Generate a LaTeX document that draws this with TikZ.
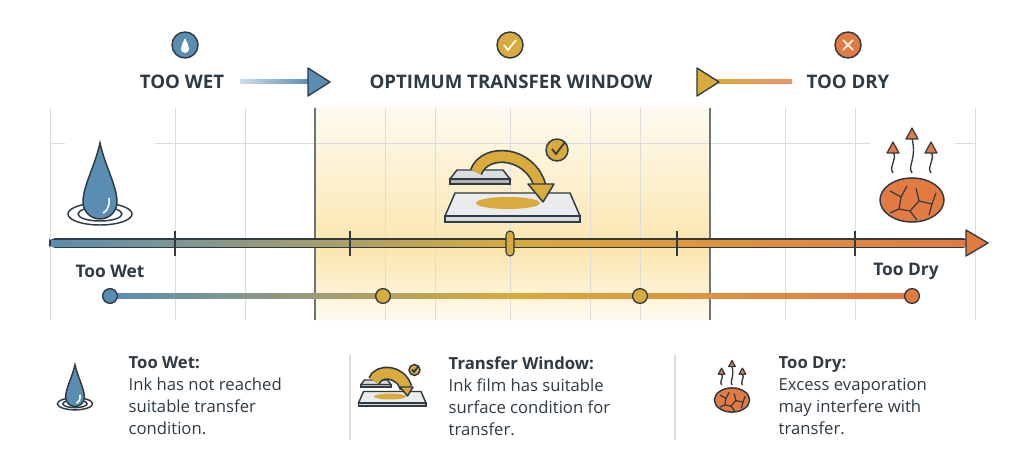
\documentclass[tikz,border=0pt]{standalone}
\usepackage{fontspec}
\setmainfont{Open Sans}
\usetikzlibrary{shapes.geometric,arrows.meta,decorations.pathmorphing}
\definecolor{cb}{HTML}{5A8DB2}
\definecolor{cg}{HTML}{D9AA3C}
\definecolor{co}{HTML}{E27A42}
\definecolor{dk}{HTML}{2E3A44}
\definecolor{grid}{HTML}{DCDCDC}
\definecolor{band1}{HTML}{FEFAF0}
\definecolor{band2}{HTML}{FBE6AE}
\definecolor{plate}{HTML}{DADDE0}
\tikzset{
 hdr/.style={font=\bfseries\fontsize{14}{16}\selectfont,text=dk},
 lab/.style={font=\bfseries\fontsize{13}{15}\selectfont,text=dk},
 desc/.style={font=\fontsize{12.5}{16.5}\selectfont,text=dk,align=left,anchor=north west},
 gl/.style={grid,line width=0.6pt},
 pics/drop/.style={code={
  \draw[dk,line width=1.1pt] (0,16) ellipse[x radius=32,y radius=11];
  \draw[dk,line width=1.1pt] (0,16) ellipse[x radius=22,y radius=7];
  \fill[white] (-14,2) rectangle (14,20);
  \fill[cb,draw=dk,line width=1.1pt] (0,-55) .. controls (5,-32) and (17,-12) .. (17,4) arc[start angle=0,end angle=180,radius=17] .. controls (-17,-12) and (-5,-32) .. (0,-55) -- cycle;
  \draw[white,line width=1.2pt] (9,0) .. controls (10,8) and (7,13) .. (3,15);
 }},
 pics/xfer/.style={code={
  \fill[plate,draw=dk,line width=1.1pt] (-43,-26)--(3,-26)--(10,-17)--(-50,-17)--cycle;
  \fill[gray!60,draw=dk,line width=1.1pt] (-50,-17) rectangle (10,-12);
  \fill[plate!60,draw=dk,line width=1.1pt] (-45,-3)--(70,-3)--(80,20)--(-55,20)--cycle;
  \fill[plate,draw=dk,line width=1.1pt] (-55,20) rectangle (80,26);
  \fill[cg] (8,7) ellipse[x radius=32,y radius=6];
  \draw[dk,line width=10pt] (-24,-24) .. controls (-15,-48) and (30,-45) .. (40,-10);
  \draw[cg,line width=7.5pt] (-24,-24) .. controls (-15,-48) and (30,-45) .. (40,-10);
  \fill[cg,draw=dk,line width=1.1pt,line join=round] (28,-12)--(54,-12)--(43,6)--cycle;
  \fill[cg,draw=dk,line width=1.1pt] (57,-46) circle (11);
  \draw[dk,line width=1.3pt] (52,-47)--(56,-42)--(65,-54);
 }},
 pics/dry/.style={code={
  \fill[co,draw=dk,line width=1.1pt] (0,0) ellipse[x radius=32,y radius=22];
  \draw[dk,line width=0.9pt] (-22,-9)--(-11,-3)--(-5,-14) (-11,-3)--(-13,9)--(-22,13) (-13,9)--(-2,11)--(5,20) (-2,11)--(7,1)--(4,-12) (7,1)--(20,4)--(24,-7) (20,4)--(17,15);
  \foreach \x/\t in {-19/-58,0/-72,19/-58}{
   \draw[dk,line width=1pt] (\x,-27) .. controls (\x-5,-34) and (\x+5,-40) .. (\x,\t+10);
   \fill[co,draw=dk,line width=0.9pt,line join=round] (\x-6,\t+11)--(\x+6,\t+11)--(\x,\t)--cycle;
  }
 }}
}
\begin{document}
\begin{tikzpicture}[x=0.75pt,y=-0.75pt]
\useasboundingbox (0,0) rectangle (1024,474);
\fill[white] (0,0) rectangle (1024,474);
% band
\shade[top color=band1,bottom color=band2] (315,108) rectangle (710,250);
\shade[top color=band2,bottom color=band1] (315,250) rectangle (710,320);
% grid
\foreach \x in {50,175,245,385,435,510,590,640,785,855,975}{\draw[gl] (\x,108)--(\x,320);}
\draw[gl] (50,143)--(65,143) (155,143)--(870,143) (955,143)--(975,143);
\draw[dk!70,line width=0.8pt] (315,108)--(315,320) (710,108)--(710,320);
% top icons
\fill[cb,draw=dk,line width=1.1pt] (185,45) circle (13);
\fill[white] (185,38) .. controls (187,43) and (189,45) .. (189,49) arc[start angle=0,end angle=180,radius=4] .. controls (181,45) and (183,43) .. (185,38);
\fill[cg,draw=dk,line width=1.1pt] (510,45) circle (13);
\draw[white,line width=1.3pt] (504,45)--(508,50)--(516,40);
\fill[co,draw=dk,line width=1.1pt] (848,45) circle (13);
\draw[white,line width=1.3pt] (843,40)--(853,50) (853,40)--(843,50);
% header
\node[hdr] (hw) at (182,82) {TOO WET};
\node[hdr] (ho) at (511,82) {OPTIMUM TRANSFER WINDOW};
\node[hdr] (hd) at (848,82) {TOO DRY};
\shade[left color=cb!30,right color=cb] (240,80) rectangle (310,84);
\fill[cb,draw=dk,line width=1pt,line join=round] (308,68)--(330,82)--(308,96)--cycle;
\shade[left color=cg,right color=co!80] (712,80) rectangle (792,84);
\fill[cg,draw=dk,line width=1pt,line join=round] (697,68)--(719,82)--(697,96)--cycle;
% icons
\pic at (100,198) {drop};
\pic at (500,196) {xfer};
\pic at (912,200) {dry};
% main axis
\draw[dk,line width=1.2pt,rounded corners=3.5pt] (50,239) rectangle (968,247);
\shade[left color=cb,right color=co,middle color=cg] (51,240) rectangle (968,246);
\fill[co,draw=dk,line width=1pt,line join=round] (966,230)--(988,243)--(966,256)--cycle;
\foreach \x in {175,350,677,855}{\draw[dk,line width=1pt] (\x,231)--(\x,256);}
\fill[cg,draw=dk,line width=0.8pt,rounded corners=3pt] (506,231) rectangle (514,256);
\node[lab] (tw) at (110,271) {Too Wet};
\node[lab] (td) at (906,271) {Too Dry};
% second line
\shade[left color=cb,right color=co,middle color=cg] (110,293.5) rectangle (912,298.5);
\node[circle,fill=cb,draw=dk,line width=1pt,inner sep=0,minimum size=11pt] (d1) at (110,296) {};
\node[circle,fill=cg,draw=dk,line width=1pt,inner sep=0,minimum size=11pt] (d2) at (383,296) {};
\node[circle,fill=cg,draw=dk,line width=1pt,inner sep=0,minimum size=11pt] (d3) at (640,296) {};
\node[circle,fill=co,draw=dk,line width=1pt,inner sep=0,minimum size=11pt] (d4) at (912,296) {};
% bottom
\draw[grid,line width=0.8pt] (350,355)--(350,440) (675,355)--(675,440);
\pic[scale=0.55] at (75,395) {drop};
\pic[scale=0.5] at (386,393) {xfer};
\pic[scale=0.55] at (732,400) {dry};
\node[desc] (t1) at (124,352) {\textbf{Too Wet:}\\Ink has not reached\\suitable transfer\\condition.};
\node[desc] (t2) at (444,352) {\textbf{Transfer Window:}\\Ink film has suitable\\surface condition for\\transfer.};
\node[desc] (t3) at (774,352) {\textbf{Too Dry:}\\Excess evaporation\\may interfere with\\transfer.};
\end{tikzpicture}
\end{document}
